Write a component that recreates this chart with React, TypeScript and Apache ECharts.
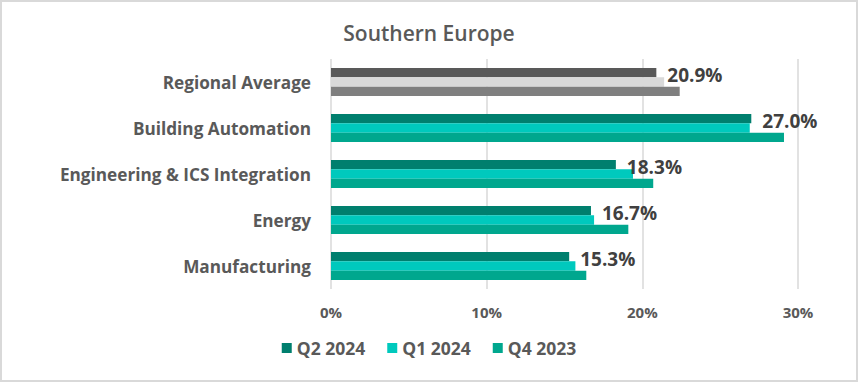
import React, { useEffect, useRef } from "react";
import * as echarts from "echarts";

const categories = ["Regional Average", "Building Automation", "Engineering & ICS Integration", "Energy", "Manufacturing"];
const seriesNames = ["Q2 2024", "Q1 2024", "Q4 2023"];
const q2_2024 = [20.9, 27.0, 18.3, 16.7, 15.3];
const q1_2024 = [21.4, 26.9, 19.4, 16.9, 15.7];
const q4_2023 = [22.4, 29.1, 20.7, 19.1, 16.4];
const seriesColors = ["#007F6E", "#00C9BD", "#00A78E"];
const averageColors = ["#595959", "#D9D9D9", "#7F7F7F"];
const xTicks = [0, 10, 20, 30];

const FONT = "'Open Sans', Lato, sans-serif";

export default function App() {
  const ref = useRef<HTMLDivElement>(null);
  useEffect(() => {
    document.body.style.margin = "0";
    const chart = echarts.init(ref.current!, null, { renderer: "svg" });
    const all = [q2_2024, q1_2024, q4_2023];
    chart.setOption({
      animation: false,
      backgroundColor: "transparent",
      title: {
        text: "Southern Europe",
        left: "center",
        top: 17,
        textStyle: { fontFamily: FONT, fontSize: 21, fontWeight: 600, color: "#595959" },
      },
      legend: {
        bottom: 20,
        left: "center",
        itemWidth: 10,
        itemHeight: 10,
        itemGap: 22,
        icon: "rect",
        textStyle: { fontFamily: FONT, fontSize: 17.5, fontWeight: "bold", color: "#595959" },
        data: seriesNames,
      },
      grid: { left: 331, right: 60, top: 59, bottom: 93, containLabel: false },
      xAxis: {
        type: "value",
        min: xTicks[0],
        max: xTicks[xTicks.length - 1],
        interval: 10,
        axisLabel: {
          formatter: (v: number) => v + "%",
          fontFamily: FONT,
          fontSize: 15,
          fontWeight: "bold",
          color: "#595959",
          margin: 15,
        },
        splitLine: { lineStyle: { color: "#D9D9D9", width: 1.5 } },
        axisLine: { show: false },
        axisTick: { show: false },
      },
      yAxis: {
        type: "category",
        data: categories,
        inverse: true,
        axisLabel: { fontFamily: FONT, fontSize: 17.2, fontWeight: "bold", color: "#595959", margin: 20 },
        axisLine: { show: false },
        axisTick: { show: false },
      },
      series: seriesNames.map((name, si) => ({
        name,
        type: "bar",
        barGap: "0%",
        barCategoryGap: "39%",
        itemStyle: { color: seriesColors[si] },
        data: all[si].map((v, ci) =>
          ci === 0 ? { value: v, itemStyle: { color: averageColors[si] } } : v
        ),
        label:
          si === 0
            ? {
                show: true,
                position: "right",
                distance: 11,
                offset: [0, 2],
                formatter: (p: any) => p.value.toFixed(1) + "%",
                fontFamily: FONT,
                fontSize: 19,
                fontWeight: "bold",
                color: "#404040",
              }
            : { show: false },
      })),
    });
    return () => chart.dispose();
  }, []);
  return (
    <div
      style={{
        width: 858,
        height: 382,
        boxSizing: "border-box",
        border: "2px solid #D9D9D9",
        background: "#fff",
        position: "relative",
      }}
    >
      <div ref={ref} style={{ position: "absolute", left: -2, top: -2, width: 858, height: 382 }} />
    </div>
  );
}
